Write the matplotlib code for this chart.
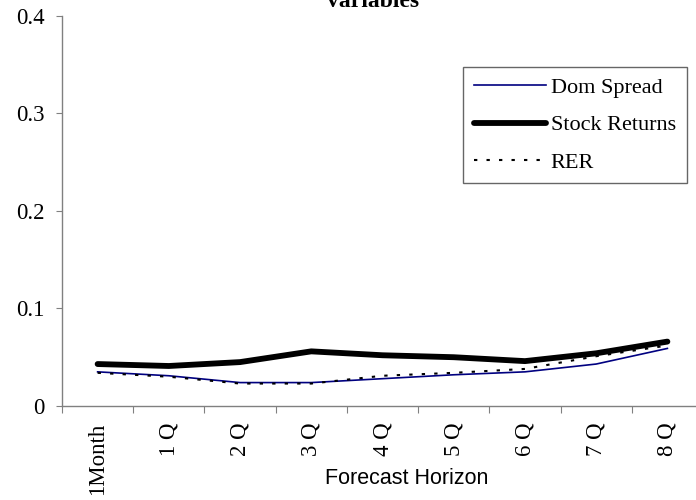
import matplotlib
matplotlib.use("Agg")
import matplotlib.pyplot as plt

categories = ["1Month", "1 Q", "2 Q", "3 Q", "4 Q", "5 Q", "6 Q", "7 Q", "8 Q"]
dom_spread = [0.035, 0.031, 0.024, 0.024, 0.028, 0.032, 0.035, 0.043, 0.059]
stock_returns = [0.043, 0.041, 0.045, 0.056, 0.052, 0.050, 0.046, 0.054, 0.066]
rer = [0.034, 0.030, 0.023, 0.023, 0.031, 0.034, 0.038, 0.051, 0.062]
y_ticks = [0, 0.1, 0.2, 0.3, 0.4]
y_tick_labels = ["0", "0.1", "0.2", "0.3", "0.4"]

W, H = 696, 500
fig = plt.figure(figsize=(W / 100, H / 100), dpi=100)
ax = fig.add_axes([62 / W, (H - 406) / H, 641 / W, 390.3 / H])

x = list(range(len(categories)))
serif = ["Liberation Serif", "DejaVu Serif"]

ax.plot(x, dom_spread, color="#000080", lw=1.2, label="Dom Spread")
ax.plot(x, stock_returns, color="black", lw=4.2, solid_capstyle="round", label="Stock Returns")
ax.plot(x, rer, color="black", lw=1.5, dashes=(1.6, 4.4), label="RER")

ax.set_xlim(-0.5, len(categories) - 0.5)
ax.set_ylim(0, 0.4)
ax.set_yticks(y_ticks)
ax.set_yticklabels(y_tick_labels, family=serif, fontsize=16.5)
ax.set_xticks([i - 0.5 for i in range(len(categories) + 1)])
ax.set_xticklabels([])
ax.set_xticks(x, minor=True)
ax.set_xticklabels(categories, minor=True, rotation=90, family=serif, fontsize=16.5)
ax.tick_params(axis="x", which="minor", length=0, pad=12)
ax.tick_params(axis="x", which="major", length=5, width=0.8, color="#808080", direction="out")
ax.tick_params(axis="y", length=4, width=0.8, color="#808080", direction="out", pad=8.6)

for s in ["top", "right"]:
    ax.spines[s].set_visible(False)
for s in ["left", "bottom"]:
    ax.spines[s].set_color("#808080")
    ax.spines[s].set_linewidth(1.0)

ax.set_xlabel("Forecast Horizon", family=["Liberation Sans", "DejaVu Sans"], fontsize=15.5)
ax.xaxis.set_label_coords((407 - 62) / 641, -0.16)

fig.text(373 / W, 1 - 7 / H, "variables", ha="center", va="baseline",
         family=serif, fontweight="bold", fontsize=17)

leg = ax.legend(loc="upper left", bbox_to_anchor=(463 / W, 1 - 67 / H),
                bbox_transform=fig.transFigure, borderaxespad=0,
                prop={"family": serif, "size": 16}, handlelength=3.25,
                handletextpad=0.22, borderpad=0.48, labelspacing=0.75,
                frameon=True, fancybox=False, shadow=False)
leg.get_frame().set_edgecolor("#404040")
leg.get_frame().set_linewidth(1.0)

fig.savefig("out.png", dpi=100)
